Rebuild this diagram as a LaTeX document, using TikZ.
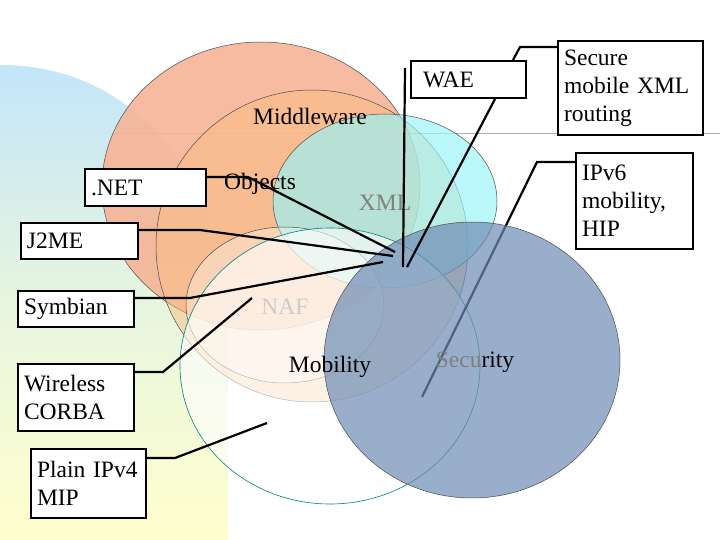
\documentclass[tikz,border=0pt]{standalone}
\usepackage{fontspec}
\setmainfont{Liberation Serif}
\definecolor{salm}{RGB}{246,180,150}
\definecolor{orng}{RGB}{250,190,130}
\definecolor{cyn}{RGB}{150,245,250}
\definecolor{secb}{RGB}{110,140,180}
\definecolor{bgb}{RGB}{195,230,250}
\definecolor{bgy}{RGB}{255,255,205}
\begin{document}
\begin{tikzpicture}[x=1pt,y=-1pt,
  box/.style={draw=black,line width=2pt,fill=white,inner sep=4pt,anchor=north west,align=left,font=\rmfamily\fontsize{23.5}{28}\selectfont},
  lbl/.style={font=\rmfamily\fontsize{23.5}{27}\selectfont,inner sep=0pt},
  lead/.style={draw=black,line width=2.2pt},
  circ/.style={draw=black!70,line width=0.5pt}]
\useasboundingbox (0,0) rectangle (720,540);
\fill[white] (0,0) rectangle (720,540);
% background
\shade[top color=bgb,bottom color=bgy,middle color=bgy!60!bgb] (0,540) -- (0,65) .. controls (150,65) and (228,200) .. (228,330) -- (228,540) -- cycle;
\draw[gray!60,line width=1pt] (115,134) -- (720,134);
\coordinate (i1) at (537,162); \coordinate (i2) at (422,397);
% circles
\fill[salm,opacity=0.9] (261,186) ellipse [x radius=159,y radius=144];
\draw[circ] (261,186) ellipse [x radius=159,y radius=144];
\fill[orng,opacity=0.5] (312,246) circle (156);
\draw[circ] (312,246) circle (156);
\fill[cyn,opacity=0.65] (385,201) ellipse [x radius=112,y radius=87];
\draw[circ] (385,201) ellipse [x radius=112,y radius=87];
\fill[white,opacity=0.35] (285,305) ellipse [x radius=99,y radius=78];
\draw[circ] (285,305) ellipse [x radius=99,y radius=78];
\fill[white,opacity=0.6] (330,366) ellipse [x radius=150,y radius=138];
\draw[teal,line width=0.6pt] (330,366) ellipse [x radius=150,y radius=138];
\node[box,minimum width=117pt,minimum height=96pt,text width=105pt] (ipv6) at (575,152) {IPv6\\mobility,\\HIP};
\draw[lead] (ipv6.west |- 0,162) -- (i1) -- (i2);
\fill[secb,opacity=0.7] (472,360) ellipse [x radius=148,y radius=138];
\draw[circ] (472,360) ellipse [x radius=148,y radius=138];
% labels
\node[lbl] (mw) at (310,116) {Middleware};
\node[lbl] (obj) at (260,184) {Objects};
\node[lbl,text=gray] (xml) at (385,203) {XML};
\node[lbl,text=gray!40] (naf) at (285,307) {NAF};
\node[lbl] (mob) at (330,367) {Mobility};
\node[lbl] (sec) at (475,362) {\textcolor{gray}{Secu}rity};
% boxes
\node[box,minimum width=121pt,minimum height=37pt,text width=109pt] (net) at (84,168) {.NET};
\node[box,minimum width=117pt,minimum height=36pt,text width=105pt] (j2me) at (20,222) {J2ME};
\node[box,minimum width=116pt,minimum height=36pt,text width=104pt] (sym) at (17,290) {Symbian};
\node[box,minimum width=116pt,minimum height=67pt,text width=104pt] (corba) at (17,363) {Wireless\\CORBA};
\node[box,minimum width=115pt,minimum height=69pt,text width=103pt] (ipv4) at (30,448) {Plain IPv4\\MIP};
\node[box,minimum width=115pt,minimum height=37pt,text width=103pt] (wae) at (410,60) {\hspace*{6pt}WAE};
\node[box,minimum width=145pt,minimum height=94pt,text width=133pt] (smx) at (557,40) {Secure\\mobile XML\\routing};
% leaders
\coordinate (hub1) at (395,252); \coordinate (hub2) at (393,256); \coordinate (hub3) at (383,262);
\draw[lead] (net.east |- 0,177) -- (248,177) -- (hub1);
\draw[lead] (j2me.east |- 0,230) -- (200,230) -- (hub2);
\draw[lead] (sym.east |- 0,298) -- (190,298) -- (hub3);
\coordinate (c3) at (252,298);
\draw[lead] (corba.east |- 0,372) -- (163,372) -- (c3);
\coordinate (p3) at (267,423);
\draw[lead] (ipv4.east |- 0,458) -- (175,458) -- (p3);
\coordinate (w1) at (405,68); \coordinate (w2) at (403,267); \coordinate (w3) at (407,267);
\draw[lead] (w1) -- (w2);
\draw[lead] (wae.south -| 495,0) -- (w3);
\draw[lead] (smx.west |- 0,47) -- (520,47) -- (wae.north -| 513,0);
\end{tikzpicture}
\end{document}
